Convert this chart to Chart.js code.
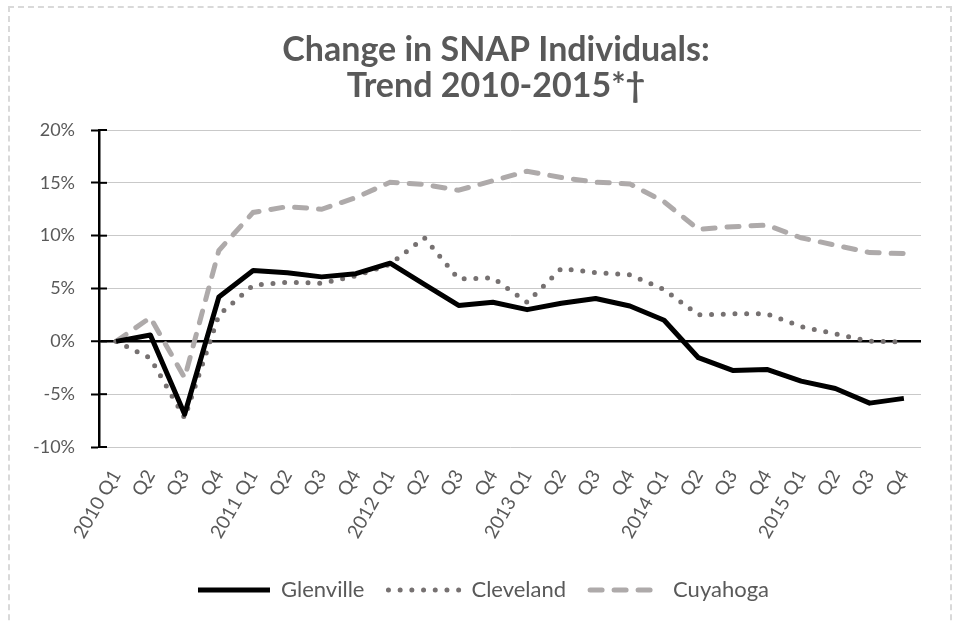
<!DOCTYPE html>
<html>
<head>
<meta charset="utf-8">
<script src="https://cdn.jsdelivr.net/npm/chart.js@4"></script>
<style>
    body { margin: 0; background: #fff; }
    #wrap { position: relative; width: 953px; height: 623px; overflow: hidden; }
    #frame { position: absolute; left: 8px; top: 6px; width: 940px; height: 660px; border: 2px dashed #d9d9d9; }
    #snap { position: absolute; left: 0; top: 0; }
</style>
</head>
<body>
<div id="wrap">
    <div id="frame"></div>
    <canvas id="snap" width="953" height="623"></canvas>
</div>
<script>
const quarters = [
    "2010 Q1", "Q2", "Q3", "Q4",
    "2011 Q1", "Q2", "Q3", "Q4",
    "2012 Q1", "Q2", "Q3", "Q4",
    "2013 Q1", "Q2", "Q3", "Q4",
    "2014 Q1", "Q2", "Q3", "Q4",
    "2015 Q1", "Q2", "Q3", "Q4"
];
const glenville = [0, 0.6, -6.9, 4.2, 6.7, 6.5, 6.1, 6.4, 7.4, 5.4, 3.4, 3.7,
    3.0, 3.6, 4.05, 3.35, 2.0, -1.55, -2.75, -2.66, -3.77, -4.46, -5.85, -5.4];
const cleveland = [0, -1.6, -7.25, 2.5, 5.3, 5.6, 5.5, 6.2, 7.3, 9.8, 5.9, 6.0,
    3.7, 6.9, 6.5, 6.3, 4.9, 2.5, 2.6, 2.6, 1.4, 0.7, 0.0, -0.05];
const cuyahoga = [0, 2.25, -3.45, 8.6, 12.2, 12.75, 12.5, 13.6, 15.06, 14.84, 14.3, 15.2,
    16.1, 15.5, 15.06, 14.9, 13.2, 10.6, 10.85, 11.0, 9.8, 9.1, 8.4, 8.3];

Chart.defaults.font.family = "Lato, 'Open Sans', sans-serif";
Chart.defaults.color = "#595959";

// excel style "cross" tick marks: draw the part inside the plot area too
const crossTicks = {
    id: "crossTicks",
    afterDraw(chart) {
        const y = chart.scales.y;
        const ctx = chart.ctx;
        ctx.save();
        ctx.strokeStyle = "#000";
        ctx.lineWidth = 2;
        y.ticks.forEach(t => {
            const py = y.getPixelForValue(t.value);
            ctx.beginPath();
            ctx.moveTo(chart.chartArea.left, py);
            ctx.lineTo(chart.chartArea.left + 8, py);
            ctx.stroke();
        });
        ctx.restore();
    }
};

// title and legend sit a little right of centre in the original
const nudge = {
    id: "nudge",
    afterLayout(chart) {
        chart.titleBlock.left += 61;
        chart.legend.left += 36;
    }
};

const canvas = document.getElementById("snap");
const chart = new Chart(canvas, {
    type: "line",
    data: {
        labels: quarters,
        datasets: [{
            label: "Glenville",
            data: glenville,
            borderColor: "#000000",
            backgroundColor: "#000000",
            borderWidth: 5,
            borderJoinStyle: "round",
            pointRadius: 0,
            pointStyle: "line",
            tension: 0
        }, {
            label: "Cleveland",
            data: cleveland,
            borderColor: "#767171",
            backgroundColor: "#767171",
            borderWidth: 5,
            borderDash: [0, 11.7],
            borderCapStyle: "round",
            pointRadius: 0,
            pointStyle: "line",
            tension: 0
        }, {
            label: "Cuyahoga",
            data: cuyahoga,
            borderColor: "#aeaaaa",
            backgroundColor: "#aeaaaa",
            borderWidth: 5,
            borderDash: [12, 12],
            borderCapStyle: "round",
            pointRadius: 0,
            pointStyle: "line",
            tension: 0
        }]
    },
    options: {
        responsive: false,
        animation: false,
        layout: {
            padding: { left: 10, right: 32, top: 0, bottom: 12 }
        },
        plugins: {
            title: {
                display: true,
                text: ["Change in SNAP Individuals:", "Trend 2010-2015*\u2020"],
                color: "#595959",
                font: { size: 34, weight: "bold", lineHeight: "36px" },
                padding: { top: 32, bottom: 26 }
            },
            legend: {
                position: "bottom",
                labels: {
                    usePointStyle: true,
                    pointStyleWidth: 72,
                    font: { size: 22 },
                    color: "#595959",
                    padding: 24,
                    generateLabels: c => Chart.defaults.plugins.legend.labels.generateLabels(c).map(item => {
                        const ds = c.data.datasets[item.datasetIndex];
                        item.lineDash = ds.borderDash || [];
                        item.lineCap = ds.borderCapStyle || "butt";
                        return item;
                    })
                }
            },
            tooltip: { enabled: false }
        },
        scales: {
            x: {
                offset: true,
                grid: { display: false },
                border: { display: false },
                ticks: {
                    autoSkip: false,
                    minRotation: 60,
                    maxRotation: 60,
                    font: { size: 19 },
                    color: "#595959",
                    padding: 11
                },
                afterFit: s => { s.height = 108; }
            },
            y: {
                min: -10,
                max: 20,
                ticks: {
                    stepSize: 5,
                    padding: 16,
                    font: { size: 18 },
                    color: "#595959",
                    callback: v => v + "%"
                },
                grid: {
                    color: c => c.tick && c.tick.value === 0 ? "#000000" : "#c9c9c9",
                    lineWidth: c => c.tick && c.tick.value === 0 ? 2.5 : 1,
                    tickColor: "#000000",
                    tickLength: 8,
                    tickWidth: 2
                },
                border: { display: true, color: "#000000", width: 2.5 },
                afterFit: s => { s.width = 89; }
            }
        }
    },
    plugins: [crossTicks, nudge]
});
</script>
</body>
</html>
